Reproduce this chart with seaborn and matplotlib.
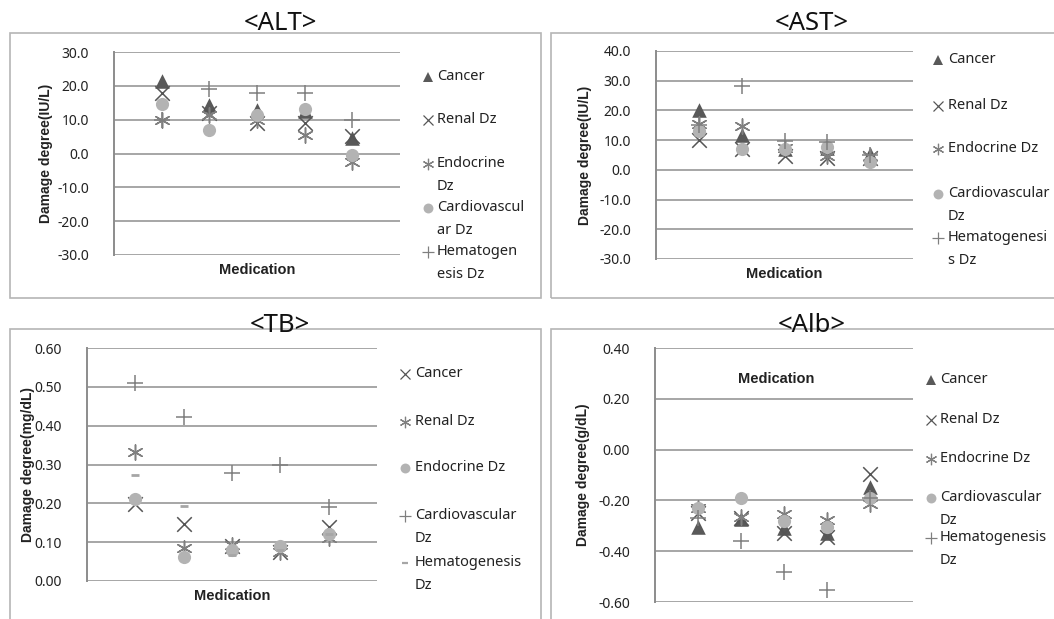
import matplotlib
matplotlib.use('Agg')
import matplotlib.pyplot as plt
from matplotlib.lines import Line2D
from matplotlib.patches import Rectangle
import seaborn as sns
import pandas as pd

# x positions of the five medications
medication = [1, 2, 3, 4, 5]

# <ALT> (IU/L)
alt_cancer = [21.5, 14.3, 12.9, 12.5, 4.5]
alt_renal = [18.0, 11.9, 8.9, 9.0, 5.3]
alt_endocrine = [9.9, 11.4, 10.0, 5.5, -2.5]
alt_cardio = [14.5, 7.0, 11.4, 13.2, -0.4]
alt_hemato = [10.0, 19.2, 17.9, 17.9, 9.9]

# <AST> (IU/L)
ast_cancer = [20.2, 11.8, 7.0, 7.5, 5.5]
ast_renal = [10.1, 7.0, 4.7, 4.0, 4.0]
ast_endocrine = [15.3, 14.7, 7.5, 4.8, 4.7]
ast_cardio = [13.1, 7.0, 7.0, 7.8, 2.7]
ast_hemato = [15.0, 28.1, 9.8, 9.3, 5.0]

# <TB> (mg/dL)
tb_cancer = [0.197, 0.148, 0.090, 0.075, 0.140]
tb_renal = [0.333, 0.084, 0.092, 0.075, 0.110]
tb_endocrine = [0.210, 0.061, 0.080, 0.090, 0.122]
tb_cardio = [0.509, 0.422, 0.279, 0.298, 0.190]
tb_hemato = [0.272, 0.192, 0.068, 0.080, 0.120]

# <Alb> (g/dL)
alb_cancer = [-0.304, -0.272, -0.308, -0.328, -0.147]
alb_renal = [-0.250, -0.270, -0.330, -0.345, -0.098]
alb_endocrine = [-0.230, -0.265, -0.252, -0.278, -0.213]
alb_cardio = [-0.229, -0.189, -0.282, -0.305, -0.189]
alb_hemato = [-0.270, -0.360, -0.482, -0.551, -0.190]

W, H = 1054, 619
GRID = '#a6a6a6'
ASTERISK = (6, 2, 0)
BOLD_FONT = ['Liberation Sans', 'DejaVu Sans']

sns.set_theme(style='white')
plt.rcParams['font.family'] = ['Noto Sans', 'DejaVu Sans']

fig = plt.figure(figsize=(W / 100, H / 100), dpi=100)


def fx(x):
    return x / W


def fy(y):
    return 1 - y / H


def add_box(x0, y0, x1, y1):
    fig.add_artist(Rectangle((fx(x0), fy(y1)), fx(x1 - x0), (y1 - y0) / H,
                             transform=fig.transFigure, fill=False,
                             edgecolor='#b5b5b5', linewidth=1.2))


def make_axes(x0, y0, x1, y1):
    return fig.add_axes([fx(x0), fy(y1), fx(x1 - x0), (y1 - y0) / H])


def style_axes(ax, ticks, fmt, ylabel):
    ax.set_xlim(0, 6)
    ax.set_ylim(ticks[0], ticks[-1])
    ax.set_yticks(ticks)
    ax.set_yticklabels([fmt.format(t) for t in ticks], fontsize=10, color='#222222')
    ax.set_xticks([])
    for t in ticks:
        ax.axhline(t, color=GRID, linewidth=1.4, zorder=0)
    for s in ['top', 'right', 'bottom']:
        ax.spines[s].set_visible(False)
    ax.spines['left'].set_color('#8c8c8c')
    ax.spines['left'].set_linewidth(1.4)
    ax.tick_params(axis='y', length=0, pad=18)
    ax.set_ylabel(ylabel, fontsize=10, fontweight='bold', color='#222222', family=BOLD_FONT)
    ax.set_xlabel('Medication', fontsize=10.5, fontweight='bold', color='#222222',
                  family=BOLD_FONT)
    ax.set_facecolor('none')


def draw_series(ax, series):
    for name, vals, marker, color, size, lw in series:
        df = pd.DataFrame({'med': medication, 'val': vals})
        sns.scatterplot(data=df, x='med', y='val', ax=ax, marker=marker, color=color,
                        s=size, linewidth=lw, zorder=3, clip_on=False)


def draw_legend(series, mx, tx, ys):
    for (name, vals, marker, color, size, lw), y in zip(series, ys):
        ms = size ** 0.5 * 0.75
        fig.add_artist(Line2D([fx(mx)], [fy(y)], transform=fig.transFigure, marker=marker,
                              color=color, markersize=ms, markeredgewidth=lw * 0.8,
                              linestyle='none'))
        fig.text(fx(tx), fy(y - 8), name, fontsize=10.5, color='#222222', va='top',
                 ha='left', linespacing=1.75)


C_TRI = '#595959'
C_X = '#555555'
C_AST = '#808080'
C_CIR = '#b3b3b3'
C_PLUS = '#7f7f7f'
C_DASH = '#a6a6a6'

alt_series = [('Cancer', alt_cancer, '^', C_TRI, 110, 0),
              ('Renal Dz', alt_renal, 'x', C_X, 110, 1.1),
              ('Endocrine\nDz', alt_endocrine, ASTERISK, C_AST, 120, 1.1),
              ('Cardiovascul\nar Dz', alt_cardio, 'o', C_CIR, 90, 0),
              ('Hematogen\nesis Dz', alt_hemato, '+', C_PLUS, 130, 1.1)]
ast_series = [('Cancer', ast_cancer, '^', C_TRI, 110, 0),
              ('Renal Dz', ast_renal, 'x', C_X, 110, 1.1),
              ('Endocrine Dz', ast_endocrine, ASTERISK, C_AST, 120, 1.1),
              ('Cardiovascular\nDz', ast_cardio, 'o', C_CIR, 90, 0),
              ('Hematogenesi\ns Dz', ast_hemato, '+', C_PLUS, 130, 1.1)]
tb_series = [('Cancer', tb_cancer, 'x', C_X, 110, 1.1),
             ('Renal Dz', tb_renal, ASTERISK, C_AST, 120, 1.1),
             ('Endocrine Dz', tb_endocrine, 'o', C_CIR, 90, 0),
             ('Cardiovascular\nDz', tb_cardio, '+', C_PLUS, 130, 1.1),
             ('Hematogenesis\nDz', tb_hemato, '_', C_DASH, 40, 2.0)]
alb_series = [('Cancer', alb_cancer, '^', C_TRI, 110, 0),
              ('Renal Dz', alb_renal, 'x', C_X, 110, 1.1),
              ('Endocrine Dz', alb_endocrine, ASTERISK, C_AST, 120, 1.1),
              ('Cardiovascular\nDz', alb_cardio, 'o', C_CIR, 90, 0),
              ('Hematogenesis\nDz', alb_hemato, '+', C_PLUS, 130, 1.1)]

# panel frames
add_box(10, 33, 541, 298)
add_box(551, 33, 1060, 298)
add_box(10, 329, 541, 625)
add_box(551, 329, 1060, 625)

# titles
for txt, x, y in [('<ALT>', 280, 23), ('<AST>', 812, 23), ('<TB>', 280, 325), ('<Alb>', 812, 325)]:
    fig.text(fx(x), fy(y), txt, fontsize=18.5, ha='center', va='center', color='#111111')

ax1 = make_axes(114, 52, 400, 255)
style_axes(ax1, [-30, -20, -10, 0, 10, 20, 30], '{:.1f}', 'Damage degree(IU/L)')
draw_series(ax1, alt_series)
ax1.xaxis.labelpad = 6
draw_legend(alt_series, 428, 437, [77, 120, 164, 208, 252])

ax2 = make_axes(656, 51, 913, 259)
style_axes(ax2, [-30, -20, -10, 0, 10, 20, 30, 40], '{:.1f}', 'Damage degree(IU/L)')
draw_series(ax2, ast_series)
ax2.xaxis.labelpad = 6
draw_legend(ast_series, 938, 948, [60, 106, 149, 194, 238])

ax3 = make_axes(87, 348, 377, 581)
style_axes(ax3, [0.0, 0.1, 0.2, 0.3, 0.4, 0.5, 0.6], '{:.2f}', 'Damage degree(mg/dL)')
draw_series(ax3, tb_series)
ax3.xaxis.labelpad = 6
draw_legend(tb_series, 405, 415, [374, 422, 468, 516, 563])

ax4 = make_axes(655, 348, 913, 602)
style_axes(ax4, [-0.6, -0.4, -0.2, 0.0, 0.2, 0.4], '{:.2f}', 'Damage degree(g/dL)')
draw_series(ax4, alb_series)
ax4.xaxis.set_label_coords(0.47, 0.905)
draw_legend(alb_series, 931, 940, [380, 420, 459, 498, 538])

ax1.yaxis.set_label_coords(-0.215, 0.5)
ax2.yaxis.set_label_coords(-0.25, 0.5)
ax3.yaxis.set_label_coords(-0.18, 0.5)
ax4.yaxis.set_label_coords(-0.25, 0.5)

fig.savefig('out.png', dpi=100)
